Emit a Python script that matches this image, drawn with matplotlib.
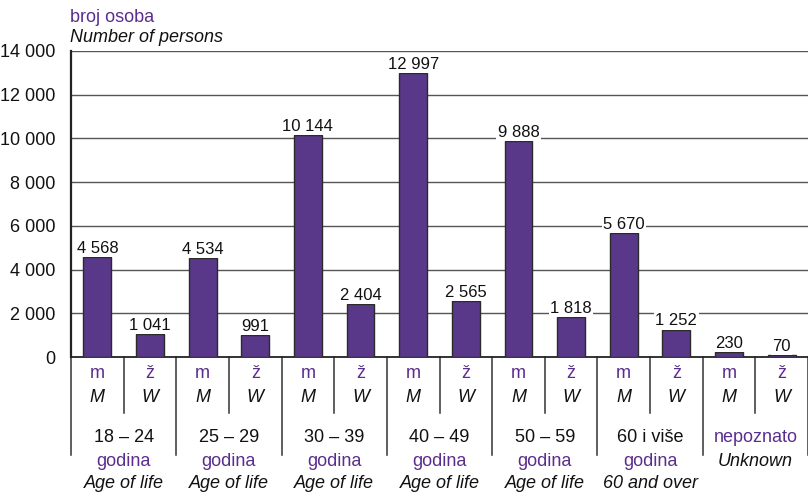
import matplotlib
matplotlib.use("Agg")
import matplotlib.pyplot as plt
import matplotlib.transforms as mtransforms

plt.rcParams['font.family'] = ['Liberation Sans', 'DejaVu Sans']

groups_line1 = ["18 – 24", "25 – 29", "30 – 39", "40 – 49", "50 – 59", "60 i više", "nepoznato"]
groups_line2 = ["godina", "godina", "godina", "godina", "godina", "godina", "Unknown"]
groups_line3 = ["Age of life", "Age of life", "Age of life", "Age of life", "Age of life", "60 and over", ""]
men = [4568, 4534, 10144, 12997, 9888, 5670, 230]
women = [1041, 991, 2404, 2565, 1818, 1252, 70]
yticks = [0, 2000, 4000, 6000, 8000, 10000, 12000, 14000]

purple_bar = "#5a3889"
purple_txt = "#5b2d8e"

W, H = 808, 495
fig = plt.figure(figsize=(W / 100, H / 100), dpi=100)
ax = fig.add_axes([71 / W, (H - 357) / H, (W - 71) / W, (357 - 51) / H])

def fmt(v):
    return f"{v:,}".replace(",", " ")

xs_m = [2 * i + 0.5 for i in range(len(men))]
xs_w = [2 * i + 1.5 for i in range(len(women))]
bw = 0.53
ax.bar(xs_m, men, width=bw, color=purple_bar, edgecolor="#2a2a2a", linewidth=1.0, zorder=3)
ax.bar(xs_w, women, width=bw, color=purple_bar, edgecolor="#2a2a2a", linewidth=1.0, zorder=3)

ax.set_xlim(0, 2 * len(men))
ax.set_ylim(0, 14000)
ax.set_yticks(yticks)
ax.set_yticklabels([fmt(v) for v in yticks], fontsize=13)
ax.tick_params(axis='y', length=0, pad=11, colors="#111111")
ax.set_xticks([])
for y in yticks[1:]:
    ax.axhline(y, color="#555555", lw=1.0, zorder=1)

for s in ["top", "right"]:
    ax.spines[s].set_visible(False)
ax.spines["left"].set_color("#222222")
ax.spines["left"].set_linewidth(1.6)
ax.spines["bottom"].set_color("#222222")
ax.spines["bottom"].set_linewidth(1.3)

for x, v in list(zip(xs_m, men)) + list(zip(xs_w, women)):
    ax.text(x, v + 60, fmt(v), ha="center", va="bottom", fontsize=12, color="#111111",
            zorder=4, bbox=dict(facecolor="white", edgecolor="none", pad=1.0))

trans = mtransforms.blended_transform_factory(ax.transData, ax.transAxes)
def ypx(p):
    return (357 - p) / 306.0

# separators
for i in range(len(men) + 1):
    ax.plot([2 * i, 2 * i], [0, ypx(455)], transform=trans, color="#333333", lw=1.1, clip_on=False)
for i in range(len(men)):
    ax.plot([2 * i + 1, 2 * i + 1], [0, ypx(413)], transform=trans, color="#333333", lw=1.1, clip_on=False)

for i in range(len(men)):
    for x, a, b in [(2 * i + 0.5, "m", "M"), (2 * i + 1.5, "ž", "W")]:
        ax.text(x, ypx(373), a, transform=trans, ha="center", va="center", fontsize=13, color=purple_txt)
        ax.text(x, ypx(397), b, transform=trans, ha="center", va="center", fontsize=13,
                style="italic", color="#111111")
    cx = 2 * i + 1
    last = (i == len(men) - 1)
    ax.text(cx, ypx(437), groups_line1[i], transform=trans, ha="center", va="center", fontsize=13,
            color=purple_txt if last else "#111111")
    ax.text(cx, ypx(461), groups_line2[i], transform=trans, ha="center", va="center", fontsize=13,
            color="#111111" if last else purple_txt, style="italic" if last else "normal")
    if groups_line3[i]:
        ax.text(cx, ypx(484), groups_line3[i], transform=trans, ha="center", va="center", fontsize=13,
                style="italic", color="#111111")

fig.text(70 / W, 1 - 17 / H, "broj osoba", ha="left", va="center", fontsize=13, color=purple_txt)
fig.text(70 / W, 1 - 37 / H, "Number of persons", ha="left", va="center", fontsize=13,
         style="italic", color="#111111")

fig.savefig("out.png", dpi=100)
